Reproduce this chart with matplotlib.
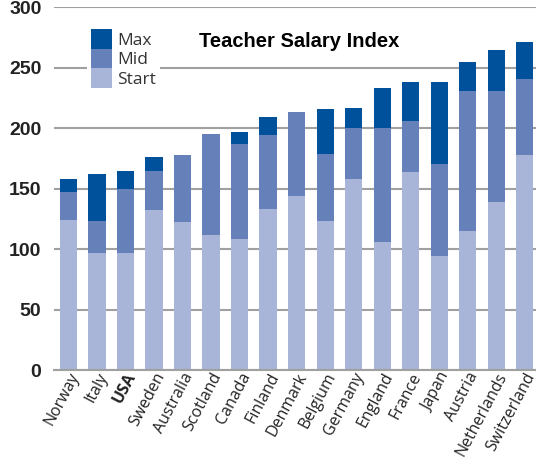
import matplotlib
matplotlib.use("Agg")
import matplotlib.pyplot as plt
from matplotlib.patches import Patch
import numpy as np

countries = ["Norway", "Italy", "USA", "Sweden", "Australia", "Scotland", "Canada",
             "Finland", "Denmark", "Belgium", "Germany", "England", "France", "Japan",
             "Austria", "Netherlands", "Switzerland"]
# index values (cumulative tops of each segment)
start = [124, 97, 97, 132, 122, 112, 108, 133, 144, 123, 158, 106, 164, 94, 115, 139, 178]
mid   = [147, 123, 150, 165, 178, 195, 187, 194, 213, 179, 200, 200, 206, 170, 231, 231, 241]
top   = [158, 162, 165, 176, 178, 195, 197, 209, 213, 216, 217, 233, 238, 238, 255, 265, 271]

c_start = "#a8b4d8"
c_mid = "#6680b9"
c_max = "#00519b"

start = np.array(start)
mid = np.array(mid)
top = np.array(top)
x = np.arange(len(countries))

fig = plt.figure(figsize=(5.36, 4.67), dpi=100)
ax = fig.add_axes([0.1007, 0.2077, 0.8993, 0.7767])

w = 0.6
ax.bar(x, start, width=w, color=c_start, zorder=2)
ax.bar(x, mid - start, bottom=start, width=w, color=c_mid, zorder=2)
ax.bar(x, top - mid, bottom=mid, width=w, color=c_max, zorder=2)

ax.set_xlim(-0.51, 16.4)
ax.set_ylim(0, 300)
ax.set_yticks(range(0, 301, 50))
ax.yaxis.grid(True, color="#a0a0a0", linewidth=1.5, zorder=0)
ax.set_axisbelow(True)
for s in ["left", "right", "top"]:
    ax.spines[s].set_visible(False)
ax.spines["bottom"].set_color("#a0a0a0")
ax.spines["bottom"].set_linewidth(1.5)
ax.tick_params(length=0)
ax.tick_params(axis="y", pad=9)

for lab in ax.get_yticklabels():
    lab.set_fontfamily("Liberation Sans")
    lab.set_fontweight("bold")
    lab.set_fontsize(14)
    lab.set_color("#222222")

ax.set_xticks(x)
ax.set_xticklabels(countries, rotation=62, ha="right", rotation_mode="anchor",
                   fontsize=11.5, fontfamily="Open Sans", color="#222222")
for lab in ax.get_xticklabels():
    if lab.get_text() == "USA":
        lab.set_fontweight("bold")
ax.tick_params(axis="x", pad=0)

ax.text(0.508, 0.905, "Teacher Salary Index", transform=ax.transAxes,
        ha="center", va="center", fontsize=14.5, fontweight="bold",
        fontfamily="Liberation Sans", color="black")

handles = [Patch(facecolor=c_max), Patch(facecolor=c_mid), Patch(facecolor=c_start)]
leg = ax.legend(handles, ["Max", "Mid", "Start"], loc="upper left",
                bbox_to_anchor=(0.05, 0.975), frameon=True, fancybox=False,
                edgecolor="none", framealpha=1, borderpad=0.25,
                labelspacing=0, handlelength=1.2, handleheight=1.35,
                handletextpad=0.3, prop={"family": "Open Sans", "size": 12.5})
for t in leg.get_texts():
    t.set_color("#333333")

fig.savefig("out.png", dpi=100)
